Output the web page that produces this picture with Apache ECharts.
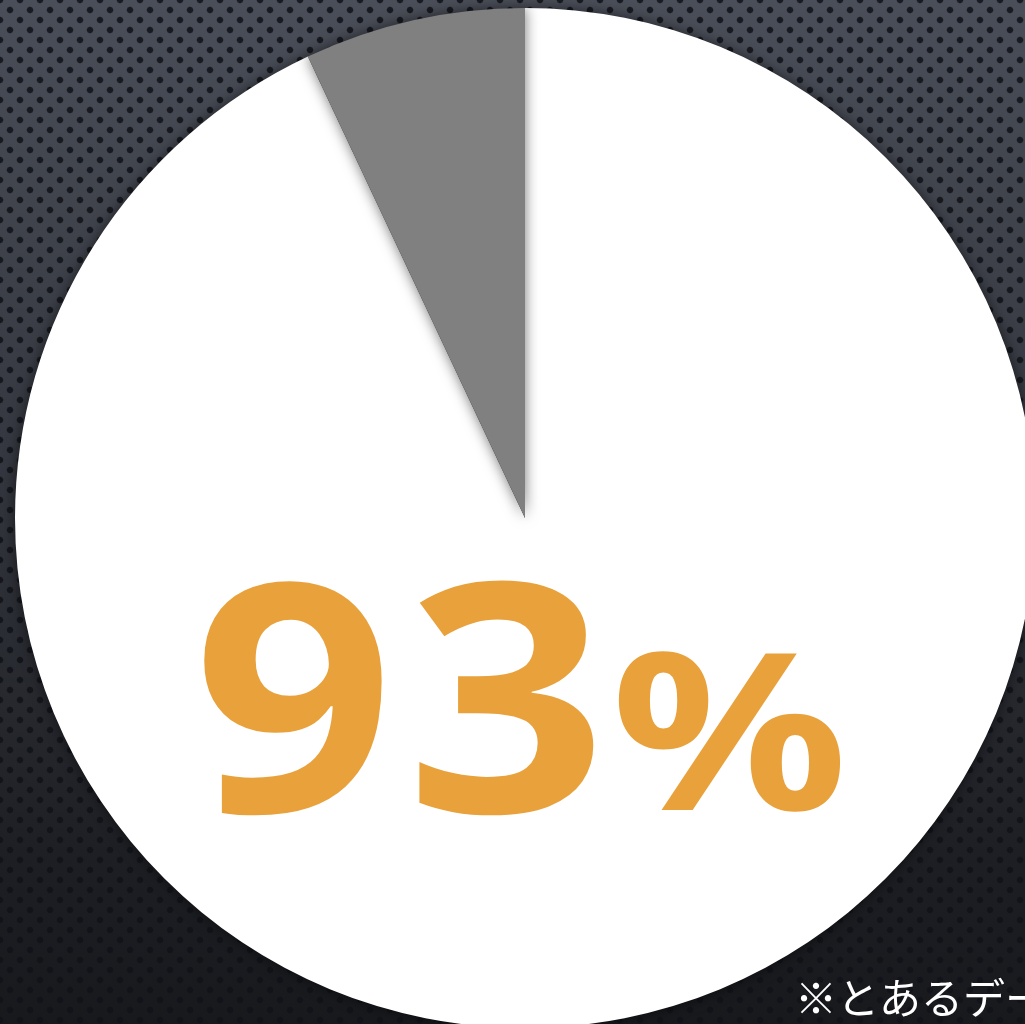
<!DOCTYPE html>
<html>
<head>
<meta charset="utf-8">
<script src="https://cdn.jsdelivr.net/npm/echarts@6/dist/echarts.min.js"></script>
<style>
  html, body { margin: 0; padding: 0; width: 100%; height: 100%; overflow: hidden; }
  body {
    background:
      radial-gradient(circle, rgba(16,18,24,0.85) 2.6px, rgba(16,18,24,0) 3.8px) 0 0 / 20px 20px,
      radial-gradient(circle, rgba(16,18,24,0.85) 2.6px, rgba(16,18,24,0) 3.8px) 10px 10px / 20px 20px,
      linear-gradient(to bottom, #4a4e58 0%, #34373f 45%, #1d1e23 85%, #18191d 100%);
  }
  #main { width: 1025px; height: 1024px; }
</style>
</head>
<body>
<div id="main"></div>
<script type="text/javascript">
  // 割合データ
  var names = ['該当', 'その他'];
  var values = [93, 7];
  var sliceColors = ['#ffffff', '#808080'];
  var bigNum = '93';
  var pctMark = '%';
  var note = '※とあるデータ';

  var myChart = echarts.init(document.getElementById('main'));
  var pieData = [];
  for (var i = 0; i < names.length; i++) {
    pieData.push({
      name: names[i],
      value: values[i],
      itemStyle: { color: sliceColors[i] }
    });
  }

  // 数字は一文字ずつ置く（字間を少し広げる）
  var digitX = [193, 406];
  var graphics = [];
  for (var j = 0; j < bigNum.length; j++) {
    graphics.push({
      type: 'text',
      z: 100,
      x: digitX[j],
      y: 561,
      scaleX: 1.1,
      style: {
        text: bigNum.charAt(j),
        fill: '#e9a13b',
        font: 'bold 320px "Noto Sans"'
      }
    });
  }
  graphics.push({
    type: 'text',
    z: 100,
    x: 611,
    y: 638,
    scaleX: 1.2,
    style: {
      text: pctMark,
      fill: '#e9a13b',
      font: 'bold 219px "Noto Sans"'
    }
  });
  graphics.push({
    type: 'text',
    z: 100,
    x: 795,
    y: 977,
    style: {
      text: note,
      fill: '#ffffff',
      font: '42px "Noto Sans CJK JP"'
    }
  });

  myChart.setOption({
    backgroundColor: 'transparent',
    animation: false,
    series: [
      {
        type: 'pie',
        center: [525, 518],
        radius: [0, 510],
        startAngle: 90,
        clockwise: true,
        silent: true,
        z: 2,
        label: { show: false },
        labelLine: { show: false },
        itemStyle: {
          borderWidth: 0,
          shadowBlur: 14,
          shadowColor: 'rgba(0,0,0,0.55)'
        },
        data: pieData
      }
    ],
    graphic: graphics
  });
</script>
</body>
</html>
